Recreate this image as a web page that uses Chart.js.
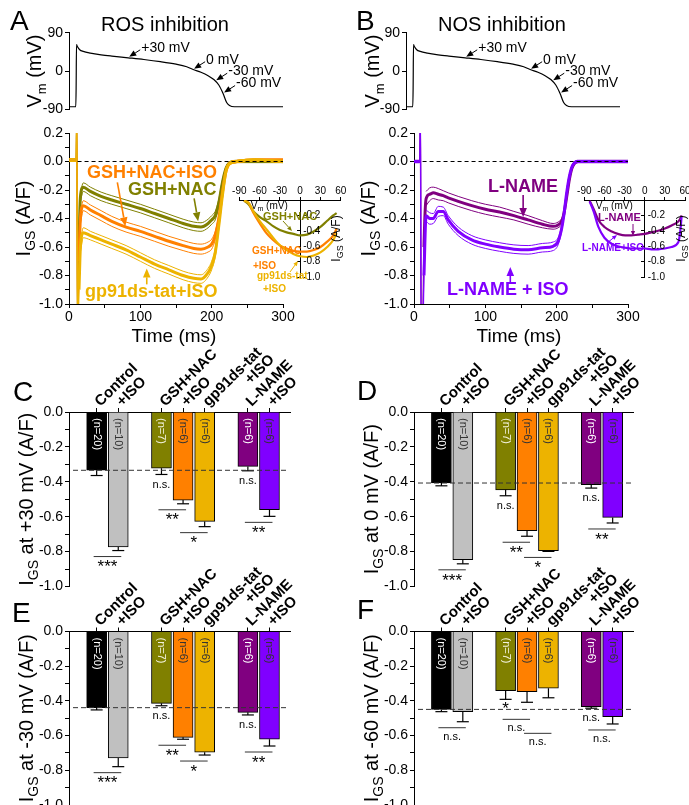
<!DOCTYPE html>
<html>
<head>
<meta charset="utf-8">
<title>I_GS: ROS and NOS inhibition</title>
<script src="https://cdn.jsdelivr.net/npm/chart.js@4.4.1/dist/chart.umd.min.js"></script>
<style>
  html, body { margin: 0; padding: 0; background: #fff; overflow: hidden; }
  #fig { position: relative; width: 689px; height: 805px; overflow: hidden; background: #fff; }
  #fig canvas { position: absolute; }
</style>
</head>
<body>
<div id="fig"></div>
<script>
// ---------- values ----------

// action potential clamp waveform (ms, mV)
const apTime = [0, 9.5, 10, 10.5, 11.5, 15, 20, 30, 45, 60, 83, 105, 128, 150, 165, 175, 185, 195, 203, 210, 216, 221, 225, 232, 260, 300];
const apVm = [-84, -84, -40, 62, 58, 50, 46, 42, 38, 35, 31, 27, 22, 16, 10, 3, -3, -11, -20, -33, -53, -74, -81, -84, -84, -84];
// arrows on the waveform: [ms, mV, label]
const apMarks = [[83, 31, '+30 mV'], [174, 3, '0 mV'], [205, -24, '-30 mV'], [216, -53, '-60 mV']];

// I_GS time course, panel A (ms, A/F); SEM null during the capacitive spike
const tA = [0, 9, 10, 11, 12, 14, 16, 20, 30, 45, 60, 80, 100, 120, 140, 160, 175, 185, 195, 200, 205, 210, 215, 220, 225, 235, 260, 300];
const gshNac = [0.01, 0.01, 0.01, 0.3, -1.2, -0.6, -0.25, -0.18, -0.21, -0.245, -0.27, -0.30, -0.33, -0.365, -0.40, -0.435, -0.455, -0.46, -0.435, -0.41, -0.38, -0.29, -0.15, -0.05, -0.01, 0, 0, 0];
const gshNacSem = [0.01, 0.01, 0.01, null, null, null, 0.03, 0.03, 0.03, 0.03, 0.03, 0.03, 0.03, 0.03, 0.03, 0.03, 0.03, 0.03, 0.03, 0.03, 0.03, 0.025, 0.02, 0.012, 0.01, 0.008, 0.008, 0.008];
const gshNacIso = [0.01, 0.01, 0.01, 0.3, -1.2, -0.7, -0.4, -0.31, -0.34, -0.38, -0.42, -0.46, -0.49, -0.525, -0.56, -0.59, -0.61, -0.615, -0.6, -0.58, -0.52, -0.40, -0.22, -0.07, -0.015, 0, 0.01, 0.01];
const gshNacIsoSem = [0.01, 0.01, 0.01, null, null, null, 0.035, 0.035, 0.035, 0.035, 0.035, 0.035, 0.035, 0.035, 0.035, 0.035, 0.035, 0.035, 0.035, 0.035, 0.03, 0.025, 0.02, 0.012, 0.01, 0.008, 0.008, 0.008];
const gp91Iso = [0.01, 0.01, 0.01, 0.3, -1.2, -0.9, -0.6, -0.5, -0.52, -0.55, -0.58, -0.62, -0.67, -0.72, -0.76, -0.8, -0.82, -0.825, -0.78, -0.73, -0.64, -0.45, -0.24, -0.07, -0.015, 0, 0.01, 0];
const gp91IsoSem = [0.01, 0.01, 0.01, null, null, null, 0.035, 0.035, 0.03, 0.03, 0.03, 0.03, 0.03, 0.03, 0.03, 0.03, 0.03, 0.03, 0.03, 0.03, 0.03, 0.025, 0.02, 0.012, 0.01, 0.008, 0.008, 0.008];

// I_GS time course, panel B (ms, A/F)
const tB = [0, 8, 9, 10, 12, 14, 17, 22, 27, 34, 41, 48, 62, 81, 100, 120, 140, 160, 180, 195, 202, 207, 210, 214, 218, 222, 230, 260, 300];
const lName = [0, 0, 0.35, -1.2, -1.2, -0.6, -0.26, -0.23, -0.22, -0.23, -0.24, -0.255, -0.28, -0.31, -0.335, -0.355, -0.38, -0.41, -0.44, -0.455, -0.445, -0.42, -0.37, -0.25, -0.12, -0.04, 0, 0, 0];
const lNameSem = [0.008, 0.008, null, null, null, null, 0.05, 0.045, 0.04, 0.04, 0.035, 0.035, 0.035, 0.035, 0.035, 0.035, 0.03, 0.03, 0.025, 0.02, 0.02, 0.02, 0.02, 0.015, 0.012, 0.01, 0.008, 0.008, 0.008];
const lNameIso = [0, 0, 0.35, -1.2, -1.2, -0.8, -0.38, -0.40, -0.40, -0.35, -0.35, -0.41, -0.49, -0.55, -0.58, -0.60, -0.615, -0.62, -0.605, -0.595, -0.56, -0.47, -0.38, -0.22, -0.1, -0.03, 0, 0, 0];
const lNameIsoSem = [0.008, 0.008, null, null, null, null, 0.04, 0.04, 0.035, 0.035, 0.03, 0.03, 0.03, 0.03, 0.03, 0.03, 0.03, 0.03, 0.03, 0.03, 0.025, 0.02, 0.02, 0.015, 0.012, 0.01, 0.008, 0.008, 0.008];

// inset I-V relations (mV, A/F)
const ivVmA = [-83, -76, -69, -60, -49, -40, -30, -20, -10, 0, 10, 20, 30, 40, 49, 54];
const ivGshNac = [-0.01, -0.06, -0.15, -0.22, -0.28, -0.34, -0.39, -0.42, -0.44, -0.46, -0.45, -0.41, -0.35, -0.27, -0.2, -0.17];
const ivGshNacIso = [-0.01, -0.04, -0.17, -0.30, -0.44, -0.52, -0.59, -0.63, -0.66, -0.67, -0.67, -0.65, -0.61, -0.54, -0.46, -0.37];
const ivGp91Iso = [-0.01, -0.04, -0.15, -0.27, -0.39, -0.49, -0.59, -0.65, -0.70, -0.73, -0.74, -0.72, -0.68, -0.61, -0.52, -0.43];
const ivVmB = [-82, -76, -69, -60, -49, -40, -29, -20, -10, 0, 10, 20, 30, 40, 50, 53, 55];
const ivLName = [-0.01, -0.12, -0.26, -0.35, -0.41, -0.44, -0.46, -0.46, -0.45, -0.44, -0.42, -0.40, -0.37, -0.33, -0.28, -0.24, -0.2];
const ivLNameIso = [-0.02, -0.15, -0.35, -0.49, -0.57, -0.6, -0.62, -0.63, -0.63, -0.63, -0.64, -0.64, -0.63, -0.61, -0.55, -0.4, -0.21];

// bar panels: groups of conditions, n per bar, mean and SEM (A/F)
const barGroups = [['Control', '+ISO'], ['GSH+NAC', '+ISO', 'gp91ds-tat\n+ISO'], ['L-NAME', '+ISO']];
const nCells = [20, 10, 7, 6, 6, 6, 6];
const meanP30 = [-0.334, -0.773, -0.322, -0.505, -0.627, -0.312, -0.56];
const semP30 = [0.03, 0.021, 0.036, 0.021, 0.03, 0.025, 0.038];
const mean0 = [-0.407, -0.846, -0.446, -0.68, -0.794, -0.417, -0.604];
const sem0 = [0.016, 0.024, 0.034, 0.032, 0.005, 0.019, 0.032];
const meanM30 = [-0.439, -0.729, -0.414, -0.61, -0.696, -0.466, -0.621];
const semM30 = [0.013, 0.05, 0.014, 0.011, 0.016, 0.015, 0.039];
const meanM60 = [-0.449, -0.462, -0.341, -0.347, -0.327, -0.433, -0.491];
const semM60 = [0.013, 0.058, 0.05, 0.061, 0.055, 0.009, 0.042];
// statistics: pairs [bar, bar, label] and single-bar labels versus control
const sigP30 = [[0, 1, '***'], [2, 3, '**'], [3, 4, '*'], [5, 6, '**']];
const ctlP30 = [[2, 'n.s.'], [5, 'n.s.']];
const sig0 = [[0, 1, '***'], [2, 3, '**'], [3, 4, '*'], [5, 6, '**']];
const ctl0 = [[2, 'n.s.'], [5, 'n.s.']];
const sigM30 = [[0, 1, '***'], [2, 3, '**'], [3, 4, '*'], [5, 6, '**']];
const ctlM30 = [[2, 'n.s.'], [5, 'n.s.']];
const sigM60 = [[0, 1, 'n.s.'], [2, 3, 'n.s.'], [3, 4, 'n.s.'], [5, 6, 'n.s.']];
const ctlM60 = [[2, '*'], [5, 'n.s.']];

// ---------- styles ----------
const FF = 'Arial, "Liberation Sans", Helvetica, sans-serif';
Chart.defaults.font.family = FF;
Chart.defaults.color = '#000';
const OLIVE = '#808000', ORANGE = '#FF8000', GOLD = '#EDB300', PURPLE = '#800080', VIOLET = '#8000FF';
const barColors = ['#000000', '#C0C0C0', OLIVE, ORANGE, GOLD, PURPLE, VIOLET];
const nColors = ['#fff', '#333', '#f2f2dc', '#333', '#333', '#fff', '#333'];

const fig = document.getElementById('fig');

function addCanvas(r) {
  const c = document.createElement('canvas');
  c.width = r.w;
  c.height = r.h;
  Object.assign(c.style, { left: r.x + 'px', top: r.y + 'px', width: r.w + 'px', height: r.h + 'px' });
  fig.appendChild(c);
  return c;
}

// padding so the plot area lands on the page box a
function padFor(r, a, yW, xH, xPos) {
  return {
    left: a.l - r.x - yW,
    right: r.x + r.w - a.r,
    top: a.t - r.y - (xPos === 'top' ? xH : 0),
    bottom: r.y + r.h - a.b - (xPos === 'bottom' ? xH : 0)
  };
}

const xy = (xs, ys) => xs.map((x, i) => ({ x, y: ys[i] }));
const band = (mean, sem, sign) => mean.map((v, i) => (sem[i] === null ? null : v + sign * sem[i]));
const fmt1 = v => (Math.abs(v) < 1e-9 ? '0.0' : v.toFixed(1));

function put(ctx, s, x, y, font, color, align, rot) {
  ctx.save();
  ctx.font = font;
  ctx.fillStyle = color || '#000';
  ctx.textAlign = align || 'left';
  ctx.textBaseline = 'middle';
  ctx.translate(x, y);
  if (rot) ctx.rotate(rot);
  ctx.fillText(s, 0, 0);
  ctx.restore();
}

function seg(ctx, x1, y1, x2, y2, color, w, dash) {
  ctx.save();
  ctx.strokeStyle = color || '#000';
  ctx.lineWidth = w || 1;
  if (dash) ctx.setLineDash(dash);
  ctx.beginPath();
  ctx.moveTo(x1, y1);
  ctx.lineTo(x2, y2);
  ctx.stroke();
  ctx.restore();
}

function arrow(ctx, x1, y1, x2, y2, color, w, head) {
  const a = Math.atan2(y2 - y1, x2 - x1);
  const bx = x2 - head * Math.cos(a), by = y2 - head * Math.sin(a);
  const hw = head * 0.42;
  seg(ctx, x1, y1, bx, by, color, w);
  ctx.save();
  ctx.fillStyle = color;
  ctx.beginPath();
  ctx.moveTo(x2, y2);
  ctx.lineTo(bx + hw * Math.sin(a), by - hw * Math.cos(a));
  ctx.lineTo(bx - hw * Math.sin(a), by + hw * Math.cos(a));
  ctx.closePath();
  ctx.fill();
  ctx.restore();
}

// text with subscript, centred on (x, y) along its baseline; parts = [text, size, drop]
function subText(ctx, parts, x, y, rot) {
  ctx.save();
  ctx.translate(x, y);
  if (rot) ctx.rotate(rot);
  ctx.fillStyle = '#000';
  ctx.textAlign = 'left';
  ctx.textBaseline = 'alphabetic';
  let total = 0;
  parts.forEach(p => { ctx.font = p[1] + 'px ' + FF; total += ctx.measureText(p[0]).width; });
  let cx = -total / 2;
  parts.forEach(p => {
    ctx.font = p[1] + 'px ' + FF;
    ctx.fillText(p[0], cx, p[2]);
    cx += ctx.measureText(p[0]).width;
  });
  ctx.restore();
}

const baseOpts = {
  responsive: false, animation: false, devicePixelRatio: 1, events: [],
  plugins: { legend: { display: false }, tooltip: { enabled: false } }
};
const axGrid = { drawOnChartArea: false, color: '#000', tickLength: 4 };
const axBorder = { color: '#000', width: 1 };

// ---------- panel A/B top: action potential ----------
function apPanel(r, a, o) {
  new Chart(addCanvas(r), {
    type: 'line',
    data: { datasets: [{ data: xy(apTime, apVm), borderColor: '#000', borderWidth: 1.2, pointRadius: 0, cubicInterpolationMode: 'monotone' }] },
    options: Object.assign({}, baseOpts, {
      layout: { padding: padFor(r, a, 40, 0, 'bottom') },
      scales: {
        x: { type: 'linear', display: false, min: 0, max: 300 },
        y: {
          min: -90, max: 90, afterFit: s => { s.width = 40; },
          ticks: { stepSize: 45, font: { size: 14 }, padding: 2 },
          grid: axGrid, border: axBorder
        }
      }
    }),
    plugins: [{
      id: 'apNotes',
      afterDraw(chart) {
        const ctx = chart.ctx, xs = chart.scales.x, ys = chart.scales.y;
        const X = v => xs.getPixelForValue(v) + r.x, Y = v => ys.getPixelForValue(v) + r.y;
        ctx.save();
        ctx.translate(-r.x, -r.y);
        put(ctx, o.letter, o.letterX, 22, '28px ' + FF);
        put(ctx, o.title, o.titleX, 25, '20px ' + FF, '#000', 'center');
        subText(ctx, [['V', 20, 0], ['m', 13, 5], [' (mV)', 20, 0]], o.yTitleX, (a.t + a.b) / 2, -Math.PI / 2);
        apMarks.forEach(m => {
          const tx = X(m[0]), ty = Y(m[1]);
          arrow(ctx, tx + 12, ty - 8, tx + 1, ty - 1, '#000', 1, 7);
          put(ctx, m[2], tx + 13, ty - 10, '14px ' + FF);
        });
        ctx.restore();
      }
    }]
  });
}

// ---------- panel A/B middle: I_GS time course ----------
function tracePanel(r, a, o) {
  const sets = [];
  o.traces.forEach(tr => {
    // thin stroke across the capacitive spike, thick noisy-looking trace elsewhere
    const spike = c => {
      const t1 = tr.t[c.p1DataIndex];
      return t1 >= 9 && t1 <= 14 ? 1.4 : undefined;
    };
    sets.push({ data: xy(tr.t, tr.mean), borderColor: tr.color, borderWidth: 3, pointRadius: 0, cubicInterpolationMode: 'monotone', segment: { borderWidth: spike } });
    sets.push({ data: xy(tr.t, band(tr.mean, tr.sem, 1)), borderColor: tr.color, borderWidth: 1, pointRadius: 0, cubicInterpolationMode: 'monotone' });
    sets.push({ data: xy(tr.t, band(tr.mean, tr.sem, -1)), borderColor: tr.color, borderWidth: 1, pointRadius: 0, cubicInterpolationMode: 'monotone' });
  });
  new Chart(addCanvas(r), {
    type: 'line',
    data: { datasets: sets },
    options: Object.assign({}, baseOpts, {
      layout: { padding: padFor(r, a, 40, 30, 'bottom') },
      scales: {
        x: {
          type: 'linear', min: 0, max: 300, afterFit: s => { s.height = 30; },
          ticks: { stepSize: 50, font: { size: 14 }, padding: 1, maxRotation: 0, callback: v => (v % 100 === 0 ? String(v) : '') },
          grid: axGrid, border: axBorder
        },
        y: {
          min: -1, max: 0.2, afterFit: s => { s.width = 40; },
          ticks: { stepSize: 0.1, font: { size: 14 }, padding: 2, autoSkip: false, callback: v => (Math.round(v * 10) % 2 === 0 ? fmt1(v) : '') },
          grid: axGrid, border: axBorder
        }
      }
    }),
    plugins: [{
      id: 'traceNotes',
      afterDraw(chart) {
        const ctx = chart.ctx, xs = chart.scales.x, ys = chart.scales.y;
        const X = v => xs.getPixelForValue(v) + r.x, Y = v => ys.getPixelForValue(v) + r.y;
        ctx.save();
        ctx.translate(-r.x, -r.y);
        seg(ctx, X(12), Y(0), a.r, Y(0), '#000', 1, [4, 3]);
        subText(ctx, [['I', 20, 0], ['GS', 14, 5], [' (A/F)', 20, 0]], o.yTitleX, (a.t + a.b) / 2, -Math.PI / 2);
        put(ctx, 'Time (ms)', (a.l + a.r) / 2 - 2, 337, '19px ' + FF, '#000', 'center');
        o.labels.forEach(l => put(ctx, l[0], l[1], l[2], 'bold 18px ' + FF, l[3]));
        o.arrows.forEach(p => {
          const tx = X(p.at[0]), ty = Y(p.at[1]);
          arrow(ctx, tx + p.d[0], ty + p.d[1], tx, ty, p.color, 1.6, 9);
        });
        ctx.restore();
      }
    }]
  });
}

// ---------- inset I-V plot ----------
function ivPanel(r, a, o) {
  const sets = o.traces.map(tr => ({ data: xy(tr.v, tr.i), borderColor: tr.color, borderWidth: 2.2, pointRadius: 0, cubicInterpolationMode: 'monotone' }));
  new Chart(addCanvas(r), {
    type: 'line',
    data: { datasets: sets },
    options: Object.assign({}, baseOpts, {
      layout: { padding: padFor(r, a, 0, 16, 'top') },
      scales: {
        x: {
          type: 'linear', position: 'top', min: -90, max: 60, afterFit: s => { s.height = 16; },
          ticks: { stepSize: 30, font: { size: 10 }, padding: 0, maxRotation: 0, minRotation: 0, autoSkip: false },
          grid: { drawOnChartArea: false, color: '#000', tickLength: 3 }, border: axBorder
        },
        y: {
          position: { x: 0 }, min: -1, max: 0,
          ticks: { stepSize: 0.2, display: false },
          grid: { drawOnChartArea: false, color: '#000', tickLength: 3 }, border: axBorder
        }
      }
    }),
    plugins: [{
      id: 'ivNotes',
      afterDraw(chart) {
        const ctx = chart.ctx, xs = chart.scales.x, ys = chart.scales.y;
        const X = v => xs.getPixelForValue(v) + r.x, Y = v => ys.getPixelForValue(v) + r.y;
        ctx.save();
        ctx.translate(-r.x, -r.y);
        [-0.2, -0.4, -0.6, -0.8, -1.0].forEach(v => put(ctx, v.toFixed(1), X(0) + 3, Y(v), '10px ' + FF));
        subText(ctx, [['I', 12, 0], ['GS', 9, 3], [' (A/F)', 12, 0]], X(0) + 40, (a.t + a.b) / 2, -Math.PI / 2);
        subText(ctx, [['V', 10, 0], ['m', 7, 2], [' (mV)', 10, 0]], X(-90) + 30, a.t + 9, 0);
        o.labels.forEach(l => put(ctx, l[0], l[1], l[2], 'bold ' + l[4] + 'px ' + FF, l[3]));
        o.arrows.forEach(p => arrow(ctx, p[0], p[1], p[2], p[3], p[4], 1, 5));
        ctx.restore();
      }
    }]
  });
}

// ---------- bar panels C-F ----------
const barLabels = [];
const barSlots = [];
(function () {
  let pos = 0;
  barGroups.forEach(g => { g.forEach(lab => { barLabels.push(lab); barSlots.push(pos++); }); pos++; });
})();

function barPanel(r, a, means, sems, sig, vsCtl, o) {
  new Chart(addCanvas(r), {
    type: 'bar',
    data: {
      datasets: [{
        data: xy(barSlots, means), backgroundColor: barColors, borderColor: '#000',
        borderWidth: 1, barThickness: 20
      }]
    },
    options: Object.assign({}, baseOpts, {
      layout: { padding: padFor(r, a, 45, 4, 'top') },
      scales: {
        x: {
          type: 'linear', position: 'top', min: -1.28, max: 8.95, offset: false,
          afterBuildTicks: s => { s.ticks = barSlots.map(v => ({ value: v })); },
          afterFit: s => { s.height = 4; },
          ticks: { display: false },
          grid: { drawOnChartArea: false, color: '#000', tickLength: 4, offset: false }, border: axBorder
        },
        y: {
          min: -1, max: 0, afterFit: s => { s.width = 45; },
          ticks: { stepSize: 0.1, font: { size: 14 }, padding: 2, autoSkip: false, callback: v => (Math.round(v * 10) % 2 === 0 ? fmt1(v) : '') },
          grid: axGrid, border: axBorder
        }
      }
    }),
    plugins: [{
      id: 'barNotes',
      afterDatasetsDraw(chart) {
        const ctx = chart.ctx, xs = chart.scales.x, ys = chart.scales.y;
        means.forEach((m, i) => {
          const x = xs.getPixelForValue(barSlots[i]);
          const y1 = ys.getPixelForValue(m), y2 = ys.getPixelForValue(m - sems[i]);
          seg(ctx, x, y1, x, y2, '#000', 1.2);
          seg(ctx, x - 6, y2, x + 6, y2, '#000', 1.2);
        });
      },
      afterDraw(chart) {
        const ctx = chart.ctx, xs = chart.scales.x, ys = chart.scales.y;
        const X = v => xs.getPixelForValue(v) + r.x, Y = v => ys.getPixelForValue(v) + r.y;
        ctx.save();
        ctx.translate(-r.x, -r.y);
        // control level
        seg(ctx, a.l + 4, Y(means[0]), a.r - 2, Y(means[0]), '#333', 1, [5, 3]);
        // n inside bars
        barSlots.forEach((s, i) => put(ctx, '(n=' + nCells[i] + ')', X(s), a.t + 6, '11px ' + FF, nColors[i], 'left', Math.PI / 2));
        // condition names above the zero line
        barSlots.forEach((s, i) => {
          const lines = barLabels[i].split('\n');
          ctx.save();
          ctx.translate(X(s) + 1, a.t - 8);
          ctx.rotate(-Math.PI / 4);
          ctx.font = 'bold 15px ' + FF;
          ctx.fillStyle = '#000';
          ctx.textBaseline = 'middle';
          ctx.textAlign = 'left';
          ctx.fillText(lines[0], 0, 0);
          if (lines[1]) {
            const w = ctx.measureText(lines[0]).width;
            ctx.textAlign = 'right';
            ctx.fillText(lines[1], w + 4, 14);
          }
          ctx.restore();
        });
        // statistics
        const capY = i => Y(means[i] - sems[i]);
        const single = {};
        vsCtl.forEach(c => {
          const y = capY(c[0]) + 10;
          single[c[0]] = y;
          put(ctx, c[1], X(barSlots[c[0]]), y, (c[1] === 'n.s.' ? '11px ' : '17px ') + FF, '#000', 'center');
        });
        let prev = null;
        sig.forEach(p => {
          const x1 = X(barSlots[p[0]]) - 3, x2 = X(barSlots[p[1]]) + 3;
          let y = Math.max(capY(p[0]), capY(p[1])) + 6;
          if (single[p[0]] !== undefined) y = Math.max(y, single[p[0]] + 10);
          if (prev && prev.j === p[0]) y = Math.max(y, prev.y + 14);
          seg(ctx, x1, y, x2, y, '#333', 1);
          if (p[2] === 'n.s.') put(ctx, p[2], (x1 + x2) / 2, y + 9, '11px ' + FF, '#000', 'center');
          else put(ctx, p[2], (x1 + x2) / 2, y + 11, '17px ' + FF, '#000', 'center');
          prev = { j: p[1], y };
        });
        subText(ctx, [['I', 20, 0], ['GS', 14, 5], [o.title, 20, 0]], o.yTitleX, (a.t + a.b) / 2, -Math.PI / 2);
        put(ctx, o.letter, o.letterX, o.letterY, '28px ' + FF);
        ctx.restore();
      }
    }]
  });
}

// ---------- build the figure ----------
apPanel({ x: 0, y: 0, w: 345, h: 125 }, { l: 69, r: 283, t: 32.7, b: 109.3 },
  { letter: 'A', letterX: 10, title: 'ROS inhibition', titleX: 165, yTitleX: 41 });
apPanel({ x: 345, y: 0, w: 344, h: 125 }, { l: 406, r: 620, t: 32.7, b: 109.3 },
  { letter: 'B', letterX: 356, title: 'NOS inhibition', titleX: 502, yTitleX: 379 });

tracePanel({ x: 0, y: 118, w: 345, h: 240 }, { l: 69, r: 283, t: 133, b: 304 }, {
  yTitleX: 30,
  traces: [
    { t: tA, mean: gp91Iso, sem: gp91IsoSem, color: GOLD },
    { t: tA, mean: gshNacIso, sem: gshNacIsoSem, color: ORANGE },
    { t: tA, mean: gshNac, sem: gshNacSem, color: OLIVE }
  ],
  labels: [['GSH+NAC+ISO', 87, 173, ORANGE], ['GSH+NAC', 128, 190, OLIVE], ['gp91ds-tat+ISO', 85, 292, GOLD]],
  arrows: [
    { at: [79, -0.455], d: [-8, -44], color: ORANGE },
    { at: [181, -0.42], d: [-4, -23], color: OLIVE },
    { at: [109, -0.75], d: [0, 16], color: GOLD }
  ]
});
tracePanel({ x: 345, y: 118, w: 344, h: 240 }, { l: 414, r: 628, t: 133, b: 304 }, {
  yTitleX: 375,
  traces: [
    { t: tB, mean: lNameIso, sem: lNameIsoSem, color: VIOLET },
    { t: tB, mean: lName, sem: lNameSem, color: PURPLE }
  ],
  labels: [['L-NAME', 488, 187, PURPLE], ['L-NAME + ISO', 447, 290, VIOLET]],
  arrows: [
    { at: [153, -0.39], d: [0, -22], color: PURPLE },
    { at: [135, -0.74], d: [0, 17], color: VIOLET }
  ]
});

ivPanel({ x: 200, y: 168, w: 155, h: 125 }, { l: 239.3, r: 340.7, t: 200, b: 277 }, {
  traces: [
    { v: ivVmA, i: ivGp91Iso, color: GOLD },
    { v: ivVmA, i: ivGshNacIso, color: ORANGE },
    { v: ivVmA, i: ivGshNac, color: OLIVE }
  ],
  labels: [['GSH+NAC', 263, 217, OLIVE, 11], ['GSH+NAC', 252, 251, ORANGE, 10], ['+ISO', 253, 266, ORANGE, 10],
    ['gp91ds-tat', 257, 276, GOLD, 10], ['+ISO', 263, 289, GOLD, 10]],
  arrows: [[283, 221, 292, 231, OLIVE], [290, 272, 298, 261, GOLD]]
});
ivPanel({ x: 545, y: 168, w: 152, h: 125 }, { l: 584.3, r: 685, t: 200, b: 277 }, {
  traces: [
    { v: ivVmB, i: ivLNameIso, color: VIOLET },
    { v: ivVmB, i: ivLName, color: PURPLE }
  ],
  labels: [['L-NAME', 598, 218, PURPLE, 11], ['L-NAME+ISO', 582, 248, VIOLET, 10]],
  arrows: [[633, 224, 633, 236, PURPLE], [607, 243, 617, 235, VIOLET]]
});

barPanel({ x: 0, y: 330, w: 345, h: 270 }, { l: 69, r: 290, t: 412, b: 586.5 }, meanP30, semP30, sigP30, ctlP30,
  { title: ' at +30 mV (A/F)', yTitleX: 33, letter: 'C', letterX: 13, letterY: 393 });
barPanel({ x: 345, y: 330, w: 344, h: 270 }, { l: 414, r: 633, t: 412, b: 586.5 }, mean0, sem0, sig0, ctl0,
  { title: ' at 0 mV (A/F)', yTitleX: 378, letter: 'D', letterX: 357, letterY: 392 });
barPanel({ x: 0, y: 550, w: 345, h: 270 }, { l: 69, r: 290, t: 631.5, b: 805 }, meanM30, semM30, sigM30, ctlM30,
  { title: ' at -30 mV (A/F)', yTitleX: 33, letter: 'E', letterX: 12, letterY: 614 });
barPanel({ x: 345, y: 550, w: 344, h: 270 }, { l: 414, r: 633, t: 631.5, b: 805 }, meanM60, semM60, sigM60, ctlM60,
  { title: ' at -60 mV (A/F)', yTitleX: 378, letter: 'F', letterX: 357, letterY: 611 });
</script>
</body>
</html>
